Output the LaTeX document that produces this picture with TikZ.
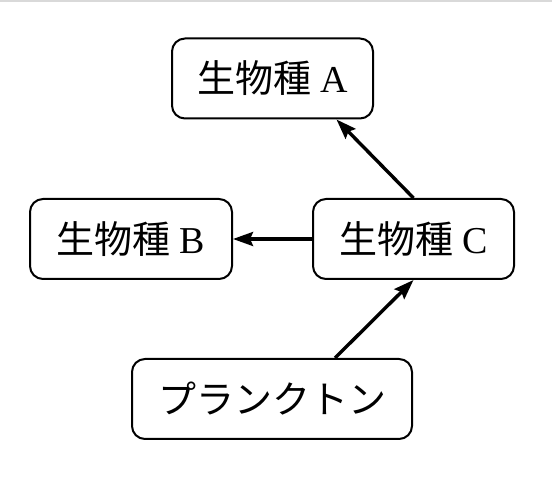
\documentclass[tikz,border=0pt]{standalone}
\usepackage{fontspec}
\setmainfont{Liberation Serif}
\newfontfamily\cjk{Noto Sans CJK JP}
\usetikzlibrary{arrows.meta,calc}
\newcommand{\spname}[1]{{\cjk 生物種}\hspace{9pt}#1}
\begin{document}
\begin{tikzpicture}[x=1pt,y=-1pt,
  box/.style={draw, line width=2pt, rounded corners=13pt, minimum height=80pt, inner sep=0pt, font=\fontsize{38}{44}\selectfont},
  flow/.style={line width=3.4pt, -{Stealth[length=20pt,width=14pt,inset=3pt]}}]
\useasboundingbox (0,0) rectangle (552,478);
\draw[line width=2pt, gray!30] (0,1) -- (552,1);
\node[box, minimum width=201pt] (A) at (272.5,78.5) {\spname{A}};
\node[box, minimum width=202pt] (B) at (131,239) {\spname{B}};
\node[box, minimum width=201pt] (C) at (413.5,239) {\spname{C}};
\node[box, minimum width=280pt] (P) at (272,399) {\cjk プランクトン};
\coordinate (Ain) at ($(A.south)+(64,0)$);
\coordinate (Pout) at ($(P.north)+(63,0)$);
\draw[flow] (C.north) -- (Ain);
\draw[flow] (C.west) -- (B.east);
\draw[flow] (Pout) -- (C.south);
\end{tikzpicture}
\end{document}
